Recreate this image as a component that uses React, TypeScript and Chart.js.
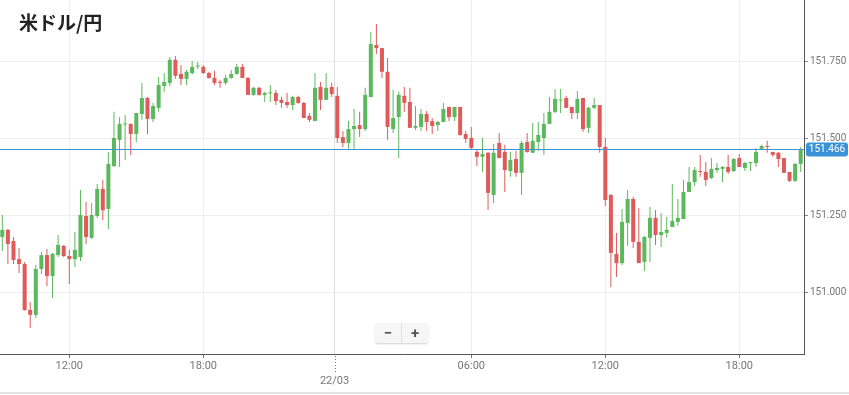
import React, { useEffect, useRef } from 'react';
import { Chart, registerables } from 'chart.js';

Chart.register(...registerables);

// 15-minute candles starting 21/03 09:00 (hours counted from 21/03 00:00)
const startHour = 9;
const stepHours = 0.25;

const opens = [
  151.182, 151.205, 151.169, 151.110, 151.094, 150.945, 150.929, 151.078, 151.123, 151.055,
  151.123, 151.153, 151.120, 151.110, 151.117, 151.250, 151.179, 151.250, 151.338, 151.273,
  151.412, 151.497, 151.547, 151.549, 151.516, 151.581, 151.633, 151.565, 151.601, 151.672,
  151.682, 151.757, 151.711, 151.695, 151.714, 151.735, 151.734, 151.714, 151.698, 151.685,
  151.682, 151.698, 151.711, 151.734, 151.698, 151.643, 151.666, 151.643, 151.648, 151.649,
  151.627, 151.620, 151.610, 151.636, 151.617, 151.575, 151.558, 151.669, 151.627, 151.669,
  151.640, 151.506, 151.487, 151.532, 151.545, 151.532, 151.636, 151.805, 151.795, 151.718,
  151.532, 151.571, 151.640, 151.620, 151.536, 151.539, 151.581, 151.558, 151.545, 151.555,
  151.604, 151.571, 151.604, 151.516, 151.503, 151.458, 151.442, 151.455, 151.318, 151.487,
  151.458, 151.396, 151.435, 151.390, 151.490, 151.455, 151.490, 151.503, 151.549, 151.588,
  151.625, 151.633, 151.604, 151.584, 151.633, 151.536, 151.601, 151.610, 151.474, 151.318,
  151.127, 151.097, 151.227, 151.305, 151.166, 151.101, 151.179, 151.244, 151.188, 151.195,
  151.214, 151.231, 151.240, 151.328, 151.360, 151.396, 151.393, 151.373, 151.399, 151.403,
  151.409, 151.396, 151.438, 151.406, 151.422, 151.422, 151.468, 151.477, 151.458, 151.455,
  151.438, 151.393, 151.364, 151.419,
];
const highs = [
  151.253, 151.208, 151.182, 151.146, 151.101, 150.971, 151.091, 151.133, 151.143, 151.130,
  151.188, 151.156, 151.140, 151.198, 151.334, 151.295, 151.292, 151.354, 151.367, 151.458,
  151.588, 151.571, 151.578, 151.549, 151.584, 151.682, 151.636, 151.617, 151.701, 151.714,
  151.766, 151.769, 151.740, 151.724, 151.753, 151.750, 151.740, 151.718, 151.721, 151.692,
  151.708, 151.724, 151.744, 151.744, 151.701, 151.669, 151.669, 151.653, 151.675, 151.659,
  151.636, 151.649, 151.640, 151.640, 151.620, 151.584, 151.714, 151.685, 151.714, 151.682,
  151.669, 151.526, 151.558, 151.597, 151.588, 151.666, 151.847, 151.873, 151.795, 151.763,
  151.659, 151.653, 151.669, 151.666, 151.607, 151.597, 151.591, 151.568, 151.558, 151.617,
  151.604, 151.604, 151.604, 151.526, 151.539, 151.464, 151.503, 151.458, 151.484, 151.519,
  151.481, 151.458, 151.461, 151.494, 151.519, 151.552, 151.555, 151.584, 151.636, 151.662,
  151.662, 151.640, 151.604, 151.656, 151.633, 151.604, 151.633, 151.610, 151.503, 151.321,
  151.195, 151.273, 151.334, 151.312, 151.276, 151.185, 151.279, 151.269, 151.260, 151.247,
  151.354, 151.305, 151.367, 151.409, 151.409, 151.448, 151.425, 151.438, 151.422, 151.412,
  151.448, 151.438, 151.451, 151.425, 151.425, 151.471, 151.481, 151.494, 151.458, 151.458,
  151.438, 151.393, 151.422, 151.474,
];
const lows = [
  151.136, 151.094, 151.094, 151.065, 150.942, 150.886, 150.919, 151.062, 151.023, 150.984,
  151.117, 151.117, 151.029, 151.084, 151.104, 151.159, 151.175, 151.244, 151.237, 151.208,
  151.409, 151.409, 151.432, 151.448, 151.490, 151.562, 151.516, 151.555, 151.588, 151.653,
  151.672, 151.695, 151.675, 151.675, 151.708, 151.727, 151.711, 151.695, 151.675, 151.666,
  151.675, 151.695, 151.708, 151.698, 151.643, 151.640, 151.640, 151.620, 151.620, 151.610,
  151.601, 151.601, 151.594, 151.614, 151.568, 151.555, 151.558, 151.594, 151.627, 151.636,
  151.487, 151.474, 151.468, 151.468, 151.506, 151.526, 151.636, 151.776, 151.698, 151.497,
  151.519, 151.438, 151.588, 151.536, 151.529, 151.526, 151.526, 151.516, 151.526, 151.555,
  151.558, 151.558, 151.510, 151.487, 151.464, 151.412, 151.393, 151.269, 151.292, 151.438,
  151.328, 151.377, 151.377, 151.318, 151.455, 151.455, 151.461, 151.448, 151.549, 151.584,
  151.584, 151.601, 151.565, 151.565, 151.523, 151.519, 151.597, 151.455, 151.282, 151.019,
  151.052, 151.091, 151.153, 151.146, 151.097, 151.071, 151.101, 151.156, 151.149, 151.179,
  151.214, 151.218, 151.240, 151.328, 151.347, 151.377, 151.347, 151.370, 151.390, 151.360,
  151.386, 151.393, 151.409, 151.396, 151.396, 151.409, 151.464, 151.455, 151.442, 151.409,
  151.390, 151.360, 151.360, 151.393,
];
const closes = [
  151.205, 151.159, 151.107, 151.094, 150.945, 150.929, 151.078, 151.123, 151.055, 151.127,
  151.156, 151.120, 151.110, 151.140, 151.253, 151.182, 151.253, 151.338, 151.269, 151.419,
  151.503, 151.549, 151.549, 151.516, 151.584, 151.633, 151.565, 151.607, 151.675, 151.685,
  151.757, 151.705, 151.695, 151.718, 151.734, 151.737, 151.714, 151.698, 151.682, 151.682,
  151.698, 151.711, 151.734, 151.698, 151.643, 151.666, 151.643, 151.649, 151.649, 151.623,
  151.617, 151.610, 151.636, 151.617, 151.568, 151.562, 151.666, 151.627, 151.666, 151.646,
  151.503, 151.487, 151.532, 151.542, 151.532, 151.643, 151.808, 151.795, 151.718, 151.539,
  151.568, 151.643, 151.617, 151.536, 151.542, 151.581, 151.555, 151.542, 151.555, 151.597,
  151.571, 151.604, 151.513, 151.500, 151.471, 151.442, 151.451, 151.325, 151.455, 151.438,
  151.399, 151.432, 151.390, 151.487, 151.458, 151.494, 151.513, 151.549, 151.588, 151.630,
  151.628, 151.601, 151.584, 151.630, 151.532, 151.601, 151.610, 151.474, 151.302, 151.130,
  151.097, 151.231, 151.305, 151.166, 151.097, 151.182, 151.244, 151.188, 151.198, 151.205,
  151.234, 151.244, 151.328, 151.360, 151.399, 151.393, 151.367, 151.403, 151.406, 151.409,
  151.393, 151.435, 151.409, 151.422, 151.424, 151.458, 151.477, 151.474, 151.448, 151.435,
  151.390, 151.364, 151.419, 151.466,
];

const lastPrice = 151.466;
const yTicks = [151.0, 151.25, 151.5, 151.75];
const xTicks = [12, 18, 23.875, 30, 36, 42];
const xTickLabels: (string | string[])[] = ['12:00', '18:00', ['', '22/03'], '06:00', '12:00', '18:00'];
const dayBreak = 23.875;
const title = '米ドル/円';

const GREEN = '#5cb85c';
const RED = '#e05a5a';
const BLUE = '#3a93d6';

export default function App() {
  const ref = useRef<HTMLCanvasElement>(null);

  useEffect(() => {
    const times = opens.map((_, i) => startHour + i * stepHours);
    const colors = opens.map((o, i) => (closes[i] >= o ? GREEN : RED));
    const bodies = times.map((t, i) => ({ x: t, y: [opens[i], closes[i]] }));
    const wicks = times.map((t, i) => ({ x: t, y: [lows[i], highs[i]] }));

    const pricePlugin = {
      id: 'priceLine',
      afterDatasetsDraw(chart: any) {
        const { ctx, chartArea } = chart;
        const ys = chart.scales.y;
        const y = Math.round(ys.getPixelForValue(lastPrice)) + 0.5;
        ctx.save();
        ctx.strokeStyle = BLUE;
        ctx.lineWidth = 1;
        ctx.beginPath();
        ctx.moveTo(chartArea.left, y);
        ctx.lineTo(chartArea.right, y);
        ctx.stroke();
        ctx.restore();
      },
      afterDraw(chart: any) {
        const { ctx, chartArea } = chart;
        const ys = chart.scales.y;
        const xs = chart.scales.x;
        const y = ys.getPixelForValue(lastPrice);
        ctx.save();
        const bx = chartArea.right + 2;
        const bw = 42;
        const bh = 14;
        ctx.fillStyle = BLUE;
        ctx.beginPath();
        (ctx as any).roundRect(bx, y - bh / 2, bw, bh, 3);
        ctx.fill();
        ctx.fillStyle = '#ffffff';
        ctx.font = '10px Roboto';
        ctx.textAlign = 'center';
        ctx.textBaseline = 'middle';
        ctx.fillText(lastPrice.toFixed(3), bx + bw / 2, y + 0.5);
        // dotted day separator tick
        const dx = Math.round(xs.getPixelForValue(dayBreak)) + 0.5;
        ctx.strokeStyle = '#777';
        ctx.lineWidth = 1;
        ctx.setLineDash([1, 2]);
        ctx.beginPath();
        ctx.moveTo(dx, chartArea.bottom + 2);
        ctx.lineTo(dx, chartArea.bottom + 19);
        ctx.stroke();
        ctx.restore();
      },
    };

    const chart = new Chart(ref.current as HTMLCanvasElement, {
      type: 'bar',
      data: {
        datasets: [
          {
            data: bodies as any,
            backgroundColor: colors,
            maxBarThickness: 4,
            grouped: false,
            minBarLength: 1,
            borderWidth: 0,
          } as any,
          {
            data: wicks as any,
            backgroundColor: colors,
            maxBarThickness: 1,
            grouped: false,
            borderWidth: 0,
          } as any,
        ],
      },
      options: {
        animation: false,
        responsive: false,
        maintainAspectRatio: false,
        layout: { padding: 0 },
        plugins: {
          legend: { display: false },
          tooltip: { enabled: false },
        },
        scales: {
          x: {
            type: 'linear',
            min: 8.897,
            max: 44.897,
            offset: false,
            grid: {
              offset: false,
              color: (c: any) => (c.tick && c.tick.value === dayBreak ? '#dcdcdc' : '#eeeeee'),
              tickColor: (c: any) => (c.tick && c.tick.value === dayBreak ? 'rgba(0,0,0,0)' : '#777'),
              tickLength: 4,
            },
            border: { display: true, color: '#555' },
            ticks: {
              autoSkip: false,
              maxRotation: 0,
              color: '#777',
              padding: 1,
              font: { family: 'Roboto', size: 11, lineHeight: 1.36 },
              callback: (_v: any, i: number) => xTickLabels[i],
            },
            afterBuildTicks: (s: any) => {
              s.ticks = xTicks.map((v) => ({ value: v }));
            },
            afterFit: (s: any) => {
              s.height = 41;
              s.paddingLeft = 0;
              s.paddingRight = 0;
            },
          } as any,
          y: {
            type: 'linear',
            position: 'right',
            min: 150.802,
            max: 151.951,
            grid: { color: '#eeeeee', tickColor: '#888', tickLength: 4 },
            border: { display: true, color: '#555' },
            ticks: {
              color: '#777',
              padding: 2,
              font: { family: 'Roboto', size: 10 },
              callback: (v: any) => Number(v).toFixed(3),
            },
            afterBuildTicks: (s: any) => {
              s.ticks = yTicks.map((v) => ({ value: v }));
            },
            afterFit: (s: any) => {
              s.width = 45;
              s.paddingTop = 0;
              s.paddingBottom = 0;
            },
          } as any,
        },
      },
      plugins: [pricePlugin as any],
    });
    return () => chart.destroy();
  }, []);

  return (
    <div style={{ position: 'absolute', left: 0, top: 0, width: 849, height: 395, background: '#fff', overflow: 'hidden' }}>
      <canvas ref={ref} width={849} height={395} style={{ display: 'block', width: 849, height: 395 }} />
      <div
        style={{
          position: 'absolute',
          left: 19,
          top: 10,
          fontFamily: '"Noto Sans CJK JP", "Noto Sans", sans-serif',
          fontWeight: 700,
          fontSize: 19,
          lineHeight: '23px',
          color: '#222',
        }}
      >
        {title}
      </div>
      <div
        style={{
          position: 'absolute',
          left: 375,
          top: 323,
          width: 53,
          height: 20,
          display: 'flex',
          background: '#f6f6f6',
          borderRadius: 3,
          boxShadow: '0 1px 2px rgba(0,0,0,0.18)',
          fontFamily: 'Roboto, sans-serif',
          fontWeight: 700,
          fontSize: 15,
          color: '#555',
        }}
      >
        <div style={{ flex: 1, display: 'flex', alignItems: 'center', justifyContent: 'center', borderRight: '1px solid #e2e2e2' }}>−</div>
        <div style={{ flex: 1, display: 'flex', alignItems: 'center', justifyContent: 'center' }}>+</div>
      </div>
      <div style={{ position: 'absolute', left: 0, top: 392, width: 849, height: 2, background: '#e3e3e3' }} />
    </div>
  );
}
